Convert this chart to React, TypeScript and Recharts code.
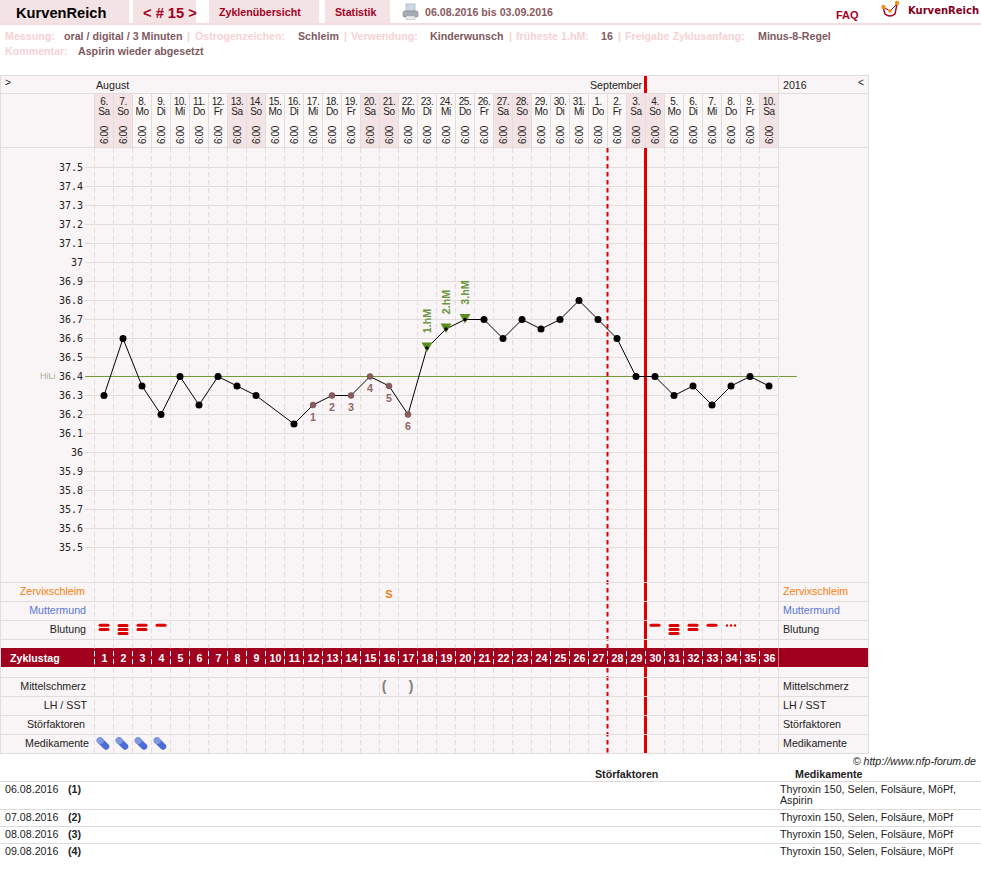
import React from "react";
import { ComposedChart, Line, XAxis, YAxis, CartesianGrid, ReferenceLine } from "recharts";

const cycleDays = Array.from({ length: 36 }, (_, i) => i + 1);
const dateLabels = ["6.","7.","8.","9.","10.","11.","12.","13.","14.","15.","16.","17.","18.","19.","20.","21.","22.","23.","24.","25.","26.","27.","28.","29.","30.","31.","1.","2.","3.","4.","5.","6.","7.","8.","9.","10."];
const weekdayLabels = ["Sa","So","Mo","Di","Mi","Do","Fr","Sa","So","Mo","Di","Mi","Do","Fr","Sa","So","Mo","Di","Mi","Do","Fr","Sa","So","Mo","Di","Mi","Do","Fr","Sa","So","Mo","Di","Mi","Do","Fr","Sa"];
const temperatures: (number | null)[] = [36.3,36.6,36.35,36.2,36.4,36.25,36.4,36.35,36.3,null,36.15,36.25,36.3,36.3,36.4,36.35,36.2,36.55,36.65,36.7,36.7,36.6,36.7,36.65,36.7,36.8,36.7,36.6,36.4,36.4,36.3,36.35,36.25,36.35,36.4,36.35];
const lowLabels: (string | null)[] = [null,null,null,null,null,null,null,null,null,null,null,"1","2","3","4","5","6",...Array(19).fill(null)];
const highLabels: (string | null)[] = [...Array(17).fill(null),"1.hM","2.hM","3.hM",...Array(16).fill(null)];
const bleeding = [2,3,2,1,0,0,0,0,0,0,0,0,0,0,0,0,0,0,0,0,0,0,0,0,0,0,0,0,0,1,3,2,1,-1,0,0];
const medication = [1,1,1,1,...Array(32).fill(0)];
const mucus: (string | null)[] = [...Array(15).fill(null),"S",...Array(20).fill(null)];
const pain: (string | null)[] = [...Array(15).fill(null),"(",")",...Array(19).fill(null)];
const yTicks = [35.5,35.6,35.7,35.8,35.9,36,36.1,36.2,36.3,36.4,36.5,36.6,36.7,36.8,36.9,37,37.1,37.2,37.3,37.4,37.5];
const boundaries = Array.from({ length: 37 }, (_, i) => i + 0.5);
const rowsLeft = [["Zervixschleim","#f5820f",591,85],["Muttermund","#5a78d8",610,86],["Blutung","#222",629,86],["Mittelschmerz","#222",686,86],["LH / SST","#222",705,87],["Störfaktoren","#222",724,85],["Medikamente","#222",743,89]] as const;
const rowsRight = [["Zervixschleim","#f5820f",591],["Muttermund","#5a78d8",610],["Blutung","#222",629],["Mittelschmerz","#222",686],["LH / SST","#222",705],["Störfaktoren","#222",724],["Medikamente","#222",743]] as const;
const tableDates = ["06.08.2016","07.08.2016","08.08.2016","09.08.2016"];
const tableNums = ["(1)","(2)","(3)","(4)"];
const tableMeds = ["Thyroxin 150, Selen, Folsäure, MöPf,","Thyroxin 150, Selen, Folsäure, MöPf","Thyroxin 150, Selen, Folsäure, MöPf","Thyroxin 150, Selen, Folsäure, MöPf"];
const infoLight = [["Messung:",5],["|",187],["Östrogenzeichen:",195],["|",344],["Verwendung:",351],["|",509],["früheste 1.hM:",516],["|",618],["Freigabe Zyklusanfang:",625]] as const;
const infoDark = [["oral / digital / 3 Minuten",64],["Schleim",298],["Kinderwunsch",430],["16",601],["Minus-8-Regel",758]] as const;

const data = cycleDays.map((day, i) => ({ day, temp: temperatures[i] }));
const GRID = "#e1dddd";
const SANS = "'Liberation Sans', Arial, sans-serif";

function T({ x, y, s = 10.67, c = "#222", b = false, right, ls, it, font, children }: any) {
  const style: any = { position: "absolute", top: y - 7, lineHeight: "14px", fontSize: s, color: c, fontWeight: b ? 700 : 400, whiteSpace: "nowrap", letterSpacing: ls, fontStyle: it ? "italic" : "normal", fontFamily: font || SANS };
  if (right !== undefined) style.right = 981 - right; else style.left = x;
  return <div style={style}>{children}</div>;
}
function Box({ x, y, w, h, c, z }: any) {
  return <div style={{ position: "absolute", left: x, top: y, width: w, height: h, background: c, zIndex: z }} />;
}

function HeaderTick({ x, index }: any) {
  const weekend = weekdayLabels[index] === "Sa" || weekdayLabels[index] === "So";
  return (
    <g fontFamily={SANS} fontSize={10} fill="#222" textAnchor="middle" letterSpacing={-0.4}>
      <rect x={x - 9.5} y={94} width={19} height={54} fill={weekend ? "#f3e3e4" : "#fbf7f7"} />
      <line x1={x - 9.5} x2={x - 9.5} y1={94} y2={148} stroke={GRID} strokeWidth={1} />
      <text x={x} y={105}>{dateLabels[index]}</text>
      <text x={x} y={115}>{weekdayLabels[index]}</text>
      <text transform={`translate(${x + 3.5} 135) rotate(-90)`}>6:00</text>
    </g>
  );
}

function Pill({ x, y }: any) {
  return (
    <g transform={`translate(${x} ${y}) rotate(45)`}>
      <rect x={-7.5} y={-3.2} width={15} height={6.4} rx={3.2} fill="#4a6ed6" />
      <rect x={-7.5} y={-3.2} width={7} height={6.4} rx={3} fill="#7f98e0" />
    </g>
  );
}

function BleedMark({ x, level }: any) {
  if (level === -1) {
    return <g fill="#dd0000">{[-4, 0, 4].map((d) => <circle key={d} cx={x + d} cy={625.5} r={1.2} />)}</g>;
  }
  const ys = level === 1 ? [625.3] : level === 2 ? [625.3, 629.5] : level === 3 ? [625.6, 629.5, 633.5] : [];
  return <g>{ys.map((cy) => <rect key={cy} x={x - 5.5} y={cy - 1.5} width={11} height={3} rx={1.5} fill="#dd0000" />)}</g>;
}

function CycleTick({ x, index }: any) {
  const day = index;
  return (
    <g fontFamily={SANS}>
      <rect x={x - 9.5} y={648} width={19} height={19} fill="#a0001e" />
      <line x1={x - 9.5} x2={x - 9.5} y1={651} y2={665} stroke="#fff" strokeDasharray="5 3" />
      <text x={x + 0.5} y={661.5} fontSize={10.67} fontWeight={700} fill="#fff" textAnchor="middle">{cycleDays[day]}</text>
      <BleedMark x={x} level={bleeding[day]} />
      {medication[day] ? <Pill x={x - 1} y={743.5} /> : null}
      {mucus[day] ? <text x={x} y={598} fontSize={11} fontWeight={700} fill="#f08018" textAnchor="middle">{mucus[day]}</text> : null}
      {pain[day] ? <text x={pain[day] === "(" ? x - 5 : x + 3} y={691} fontSize={14} fontWeight={700} fill="#808080" textAnchor="middle">{pain[day]}</text> : null}
    </g>
  );
}

function TempDot({ cx, cy, index }: any) {
  if (temperatures[index] == null || cy == null) return <g key={index} />;
  const low = lowLabels[index];
  const high = highLabels[index];
  if (high) {
    return (
      <g key={index}>
        <path d={`M${cx - 5.5} ${cy - 5.5} L${cx + 5.5} ${cy - 5.5} L${cx} ${cy + 4} Z`} fill="#5b8c22" />
        <circle cx={cx} cy={cy} r={1.8} fill="#000" />
        <text transform={`translate(${cx + 4} ${cy - 27}) rotate(-90)`} textAnchor="middle" fontFamily={SANS} fontSize={10.67} fontWeight={700} fill="#6a9440">{high}</text>
      </g>
    );
  }
  if (low) {
    return (
      <g key={index}>
        <circle cx={cx} cy={cy} r={3} fill="#8a5c5c" stroke="#6d4a4a" strokeWidth={0.5} />
        <text x={cx} y={cy + 16} textAnchor="middle" fontFamily={SANS} fontSize={10.67} fontWeight={700} fill="#8f6464">{low}</text>
      </g>
    );
  }
  return <circle key={index} cx={cx} cy={cy} r={3.5} fill="#000" />;
}

const tickStyle = { fontFamily: "'DejaVu Sans Mono', monospace", fontSize: 10, fill: "#222" };
const yDomain: [number, number] = [34.41842, 37.60263];

export default function App() {
  return (
    <div style={{ position: "absolute", left: 0, top: 0, width: 981, height: 887, background: "#fff", fontFamily: SANS, overflow: "hidden" }}>
      {/* top tabs */}
      <Box x={0} y={0} w={129} h={23} c="#f4e3e4" />
      <Box x={133} y={0} w={63} h={23} c="#f4e3e4" />
      <Box x={209} y={0} w={110} h={23} c="#f4e3e4" />
      <Box x={325} y={0} w={65} h={23} c="#f4e3e4" />
      <Box x={0} y={23} w={981} h={2} c="#f4dcdf" />
      <T x={16} y={12.5} s={14.67} b c="#000">KurvenReich</T>
      <T x={143} y={12.5} s={14.67} b c="#a5001f">{"< # 15 >"}</T>
      <T x={219} y={12} b c="#a5001f">Zyklenübersicht</T>
      <T x={335} y={12} b c="#a5001f">Statistik</T>
      <T x={425} y={12} b c="#8a5a60">06.08.2016 bis 03.09.2016</T>
      <T x={836} y={14.5} s={11} b c="#a5001f">FAQ</T>
      <T x={908} y={10.5} s={10} b c="#85001c" font="'DejaVu Sans', sans-serif">KurvenReich</T>
      <svg style={{ position: "absolute", left: 402, top: 3, width: 18, height: 18 }} viewBox="0 0 18 18">
        <rect x={4} y={1} width={9} height={7} fill="#cfd9e6" stroke="#8ea4ba" strokeWidth={0.6} />
        <rect x={1} y={8} width={15} height={6} rx={1.5} fill="#a6adb5" stroke="#777" strokeWidth={0.5} />
        <rect x={4} y={13} width={9} height={3.5} fill="#e9edf0" stroke="#999" strokeWidth={0.4} />
      </svg>
      <svg style={{ position: "absolute", left: 880, top: 0, width: 22, height: 19 }} viewBox="0 0 22 19">
        <path d="M3 7 L5 14 Q10 18 15 14 L17 4" fill="#fff" stroke="#a5001f" strokeWidth={1.4} />
        <path d="M3 7 L10 11 L17 4" fill="none" stroke="#a5001f" strokeWidth={1} />
        <circle cx={3.5} cy={7} r={2.2} fill="#f0921c" />
        <circle cx={10} cy={11} r={1.8} fill="#f0921c" />
        <circle cx={17} cy={3} r={2.2} fill="#f0921c" />
      </svg>
      {infoLight.map(([t, x]) => <T key={t + x} x={x} y={36} b c="#f6d2d4">{t}</T>)}
      {infoDark.map(([t, x]) => <T key={t} x={x} y={36} b c="#7e5a60">{t}</T>)}
      <T x={5} y={51} b c="#f6d2d4">Kommentar:</T>
      <T x={78} y={51} b c="#7e5a60">Aspirin wieder abgesetzt</T>

      {/* chart panel */}
      <Box x={0} y={75} w={868} h={678} c="#f9f4f5" />
      <Box x={0} y={648} w={868} h={19} c="#a0001e" />
      <Box x={778} y={648} w={1} h={19} c="#fff" />
      <T x={5} y={83} s={10}>{">"}</T>
      <T x={96} y={85}>August</T>
      <T x={590} y={85}>September</T>
      <T x={783} y={85}>2016</T>
      <T x={858} y={83} s={10}>{"<"}</T>
      <T x={10} y={658} b c="#fff">Zyklustag</T>
      {rowsLeft.map(([t, c, y, r]) => <T key={t} right={r} y={y} c={c}>{t}</T>)}
      {rowsRight.map(([t, c, y]) => <T key={t} x={783} y={y} c={c}>{t}</T>)}
      <T x={40} y={376} s={9} c="#a3b398">HiLi</T>

      <div style={{ position: "absolute", left: 0, top: 0 }}>
        <ComposedChart width={981} height={887} data={data} margin={{ top: 94, right: 0, bottom: 133, left: 0 }} style={{ background: "transparent" }}>
          <CartesianGrid horizontal vertical={false} horizontalValues={yTicks} stroke={GRID} />
          <CartesianGrid vertical horizontal={false} verticalValues={boundaries} stroke={GRID} strokeDasharray="5 3" />
          <XAxis dataKey="day" type="number" domain={[0.5, 36.5]} ticks={cycleDays} interval={0} orientation="top" height={54} axisLine={false} tickLine={false} tick={<HeaderTick />} />
          <XAxis xAxisId="cycle" dataKey="day" type="number" domain={[0.5, 36.5]} ticks={cycleDays} interval={0} orientation="bottom" height={1} axisLine={false} tickLine={false} tick={<CycleTick />} />
          <YAxis domain={yDomain} ticks={yTicks} interval={0} width={94.5} axisLine={false} tickSize={9.5} tickMargin={2} tickLine={{ stroke: GRID }} tick={tickStyle} tickFormatter={(v: number) => String(v)} />
          <YAxis yAxisId="r" orientation="right" domain={yDomain} ticks={yTicks} interval={0} width={202.5} axisLine={false} tickSize={18.5} tickMargin={1} tickLine={{ stroke: GRID }} tick={tickStyle} tickFormatter={(v: number) => String(v)} />
          <ReferenceLine segment={[{ x: 0, y: 36.4 }, { x: 37.47, y: 36.4 }]} stroke="#6f9c35" ifOverflow="visible" />
          <ReferenceLine x={27.5} stroke="#dd0000" strokeWidth={2} strokeDasharray="4.5 3.5" />
          <ReferenceLine stroke="#dd0000" strokeWidth={3} segment={[{ x: 29.5, y: 37.98684 }, { x: 29.5, y: 34.41842 }]} ifOverflow="visible" />
          <Line dataKey="temp" stroke="#000" strokeWidth={1} connectNulls dot={TempDot as any} activeDot={false} isAnimationActive={false} />
        </ComposedChart>
      </div>

      {/* frame lines */}
      <Box x={85} y={376} w={10} h={1} c="#6f9c35" z={2} />
      {[75, 93, 147, 582, 601, 620, 639, 677, 696, 715, 734, 753].map((y) => <Box key={y} x={0} y={y} w={869} h={1} c={GRID} z={2} />)}
      <Box x={0} y={75} w={1} h={679} c={GRID} z={2} />
      <Box x={868} y={75} w={1} h={679} c={GRID} z={2} />
      <Box x={778} y={75} w={1} h={573} c={GRID} z={2} />
      <Box x={778} y={667} w={1} h={87} c={GRID} z={2} />
      <Box x={94} y={93} w={1} h={55} c={GRID} z={2} />

      {/* table */}
      <T right={976} y={761} it>© http://www.nfp-forum.de</T>
      <T x={595} y={774} b>Störfaktoren</T>
      <T x={795} y={774} b>Medikamente</T>
      {[781, 809, 826, 843].map((y) => <Box key={y} x={0} y={y} w={981} h={1} c="#dedada" />)}
      {[789, 817, 834, 851].map((y, i) => (
        <React.Fragment key={y}>
          <T x={5} y={y}>{tableDates[i]}</T>
          <T x={68} y={y} b>{tableNums[i]}</T>
          <T x={780} y={y}>{tableMeds[i]}</T>
        </React.Fragment>
      ))}
      <T x={780} y={800}>Aspirin</T>
    </div>
  );
}
